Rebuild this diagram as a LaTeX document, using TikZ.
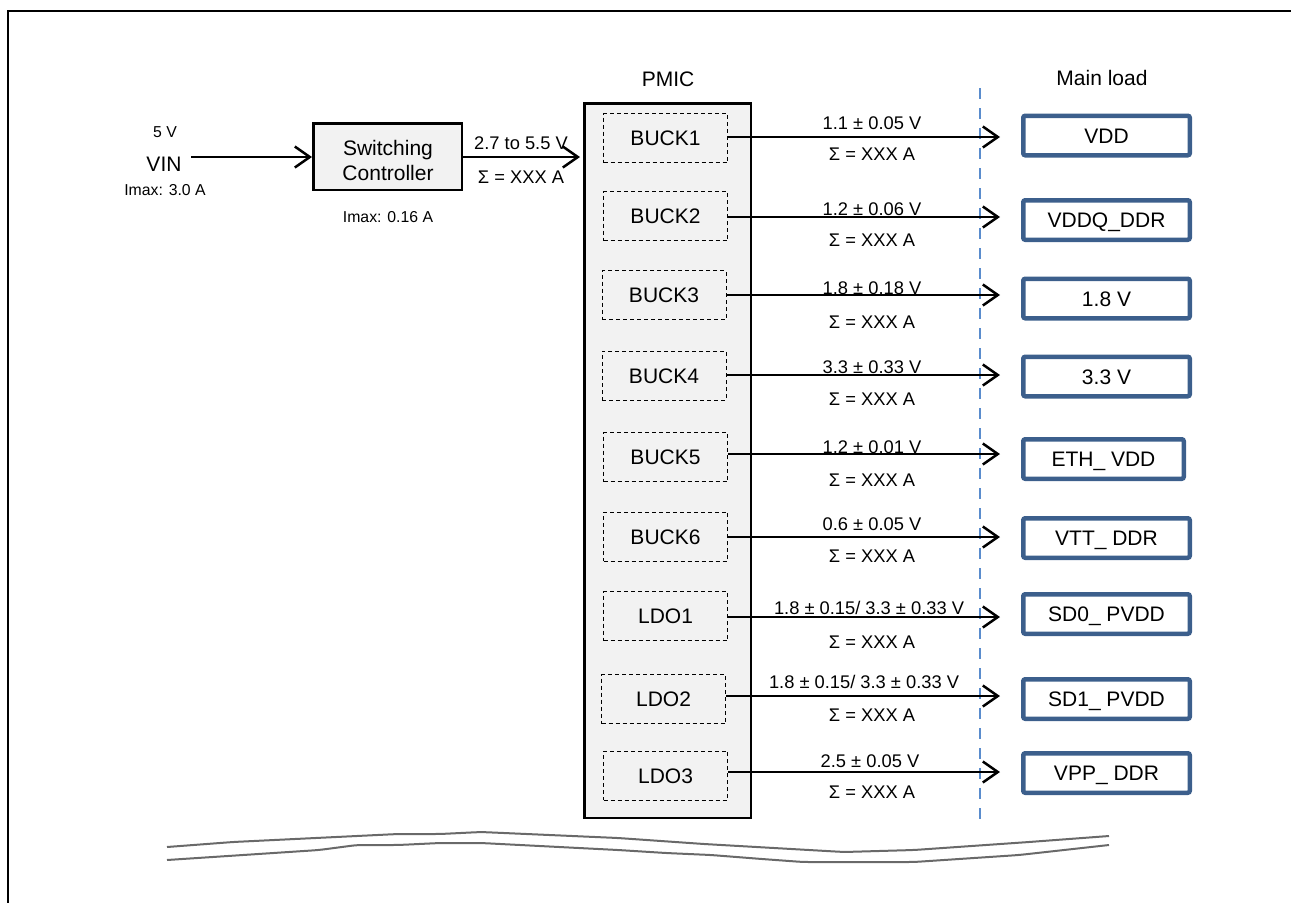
\documentclass[tikz,border=0pt]{standalone}
\usepackage{fontspec}
\setmainfont{Liberation Sans}
\usetikzlibrary{arrows.meta}
\definecolor{loadblue}{RGB}{60,95,140}
\definecolor{dashblue}{RGB}{90,140,205}
\definecolor{pmicfill}{RGB}{242,242,242}
\definecolor{breakgray}{RGB}{105,105,105}
\begin{document}
\begin{tikzpicture}[x=1pt,y=-1pt,
  big/.style={font=\fontsize{21}{25}\selectfont, inner sep=0pt, anchor=base},
  mid/.style={font=\fontsize{18.3}{22}\selectfont, inner sep=0pt, anchor=base},
  small/.style={font=\fontsize{15.8}{19}\selectfont, inner sep=0pt, anchor=base},
  arr/.style={line width=2.5pt, -{Straight Barb[length=15pt,width=21pt]}},
  regbox/.style={draw, dash pattern=on 4pt off 3pt, line width=1pt,
    minimum width=124pt, minimum height=49pt, inner sep=0pt,
    text height=15pt, text depth=0pt, font=\fontsize{21}{25}\selectfont},
  loadbox/.style={draw=loadblue, line width=4.5pt, rounded corners=2pt,
    minimum width=166.5pt, minimum height=39.5pt, inner sep=0pt,
    text height=15pt, text depth=0pt, font=\fontsize{21}{25}\selectfont},
  blockbox/.style={draw, line width=2.5pt, fill=pmicfill, inner sep=0pt},
  breakline/.style={draw=breakgray, line width=2pt, line join=round, rounded corners=6pt}
]
\useasboundingbox (0,0) rectangle (1291,903);
% frame
\draw[line width=2.5pt] (1291,11) -- (8,11) -- (8,903);

% input side
\node[small] (fiveV) at (165,137) {5 V};
\node[big] (vin) at (164,171) {VIN};
\node[small] (imaxin) at (165,195) {Imax: 3.0 A};
\node[blockbox, minimum width=148.5pt, minimum height=66.5pt] (sw) at (387.5,156.5) {};
\node[big] (swt1) at (388,155) {Switching};
\node[big] (swt2) at (388,180) {Controller};
\node[small] (imaxsw) at (388,222) {Imax: 0.16 A};
\node[mid] (inv) at (521,149) {2.7 to 5.5 V};
\node[mid] (ini) at (521,183) {Σ = XXX A};

% PMIC
\node[big] (pmiclab) at (668,86) {PMIC};
\node[blockbox, minimum width=166.5pt, minimum height=714.5pt] (pmic) at (667.5,460.5) {};
\coordinate (pin) at (580,157);
\coordinate (vinstart) at (191,157);
\draw[arr] (vinstart) -- (sw.west |- vinstart);
\draw[arr] (sw.east |- pin) -- (pin);

% main load header and separator
\node[big] (mainlab) at (1102,85) {Main load};
\coordinate (sepT) at (980,88);
\coordinate (sepB) at (980,828);
\draw[dashblue, line width=1.6pt, dash pattern=on 11pt off 9pt] (sepT) -- (sepB);

% regulators
\node[regbox] (b1) at (665.5,138) {BUCK1};
\node[regbox] (b2) at (665.5,216) {BUCK2};
\node[regbox] (b3) at (664,295) {BUCK3};
\node[regbox] (b4) at (664,375.5) {BUCK4};
\node[regbox] (b5) at (665.5,457) {BUCK5};
\node[regbox] (b6) at (665.5,536.5) {BUCK6};
\node[regbox] (l1) at (665.5,616) {LDO1};
\node[regbox] (l2) at (663.5,699) {LDO2};
\node[regbox] (l3) at (665.5,775.5) {LDO3};

% loads
\node[loadbox] (d1) at (1106.5,135.5) {VDD};
\node[loadbox] (d2) at (1106.5,220) {VDDQ\_DDR};
\node[loadbox] (d3) at (1106.5,298.5) {1.8 V};
\node[loadbox] (d4) at (1106.5,376.5) {3.3 V};
\node[loadbox, minimum width=160.5pt] (d5) at (1103.5,459) {ETH\_ VDD};
\node[loadbox] (d6) at (1106.5,538) {VTT\_ DDR};
\node[loadbox] (d7) at (1106.5,614) {SD0\_ PVDD};
\node[loadbox] (d8) at (1106.5,699) {SD1\_ PVDD};
\node[loadbox] (d9) at (1106.5,773) {VPP\_ DDR};

% arrow tips
\coordinate (t1) at (1000,137);
\coordinate (t2) at (1000,217);
\coordinate (t3) at (1000,295);
\coordinate (t4) at (1000,375);
\coordinate (t5) at (1000,454);
\coordinate (t6) at (1000,537);
\coordinate (t7) at (1000,617);
\coordinate (t8) at (1000,696);
\coordinate (t9) at (1000,772);

\draw[arr] (b1.east |- t1) -- (t1);
\draw[arr] (b2.east |- t2) -- (t2);
\draw[arr] (b3.east |- t3) -- (t3);
\draw[arr] (b4.east |- t4) -- (t4);
\draw[arr] (b5.east |- t5) -- (t5);
\draw[arr] (b6.east |- t6) -- (t6);
\draw[arr] (l1.east |- t7) -- (t7);
\draw[arr] (l2.east |- t8) -- (t8);
\draw[arr] (l3.east |- t9) -- (t9);

% voltage / current labels
\node[mid] (v1) at (872,129.5) {1.1 ± 0.05 V};
\node[mid] (v2) at (872,215.5) {1.2 ± 0.06 V};
\node[mid] (v3) at (872,294.5) {1.8 ± 0.18 V};
\node[mid] (v4) at (872,373.5) {3.3 ± 0.33 V};
\node[mid] (v5) at (872,453.5) {1.2 ± 0.01 V};
\node[mid] (v6) at (872,530.5) {0.6 ± 0.05 V};
\node[mid] (v7) at (869,614.5) {1.8 ± 0.15/ 3.3 ± 0.33 V};
\node[mid] (v8) at (864,688.5) {1.8 ± 0.15/ 3.3 ± 0.33 V};
\node[mid] (v9) at (870,767.5) {2.5 ± 0.05 V};
\foreach \n/\y in {1/160.5,2/246.5,3/328.5,4/405.5,5/486.5,6/562.5,7/648.5,8/721.5,9/798.5}{
  \node[mid] (i\n) at (872,\y) {Σ = XXX A};
}

% break lines
\draw[breakline] (167,847) -- (233,842) -- (398,834) -- (440,834) -- (481,832) -- (618,838) -- (704,844) -- (844,852) -- (914,850) -- (1029,842) -- (1109,836);
\draw[breakline] (167,860) -- (319,850) -- (357,845) -- (398,845) -- (440,843) -- (481,843) -- (618,850) -- (666,853) -- (711,855) -- (762,859) -- (803,862) -- (914,862) -- (1019,855) -- (1109,845);
\end{tikzpicture}
\end{document}
